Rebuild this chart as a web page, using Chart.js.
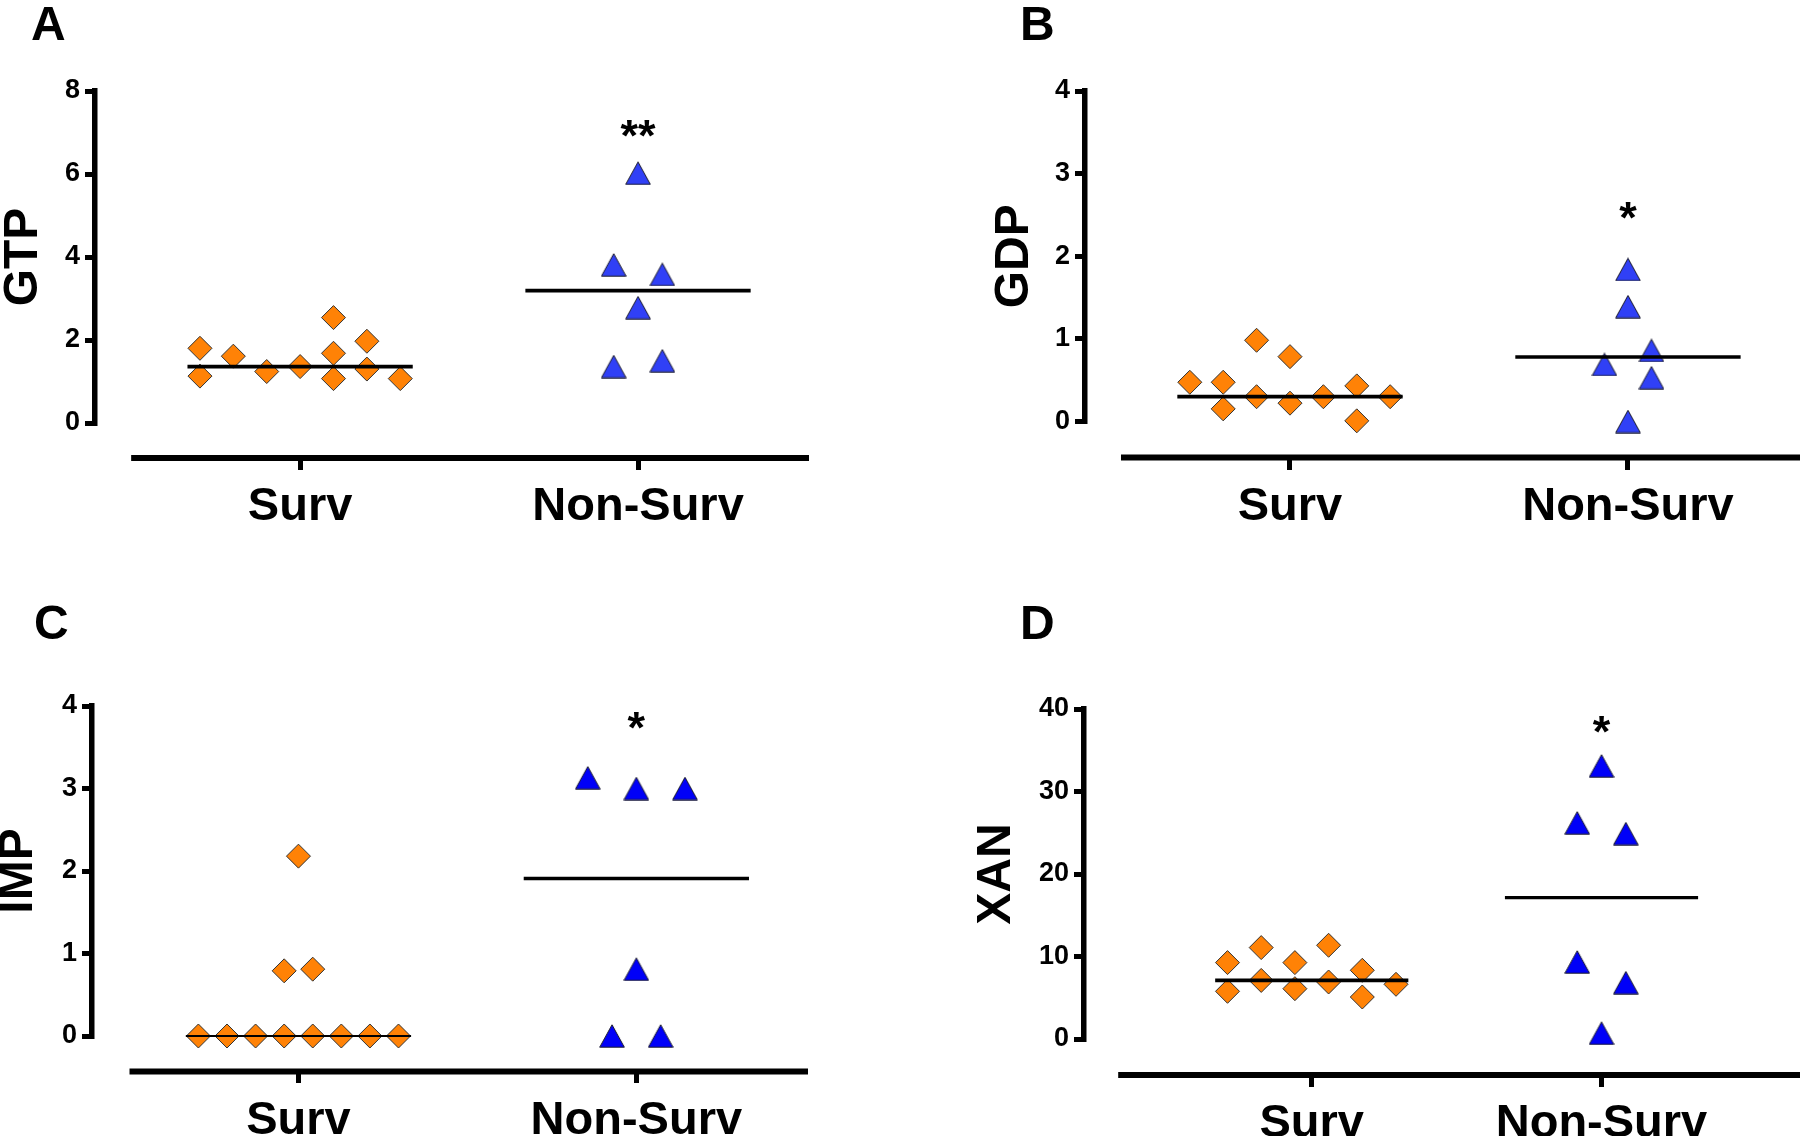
<!DOCTYPE html>
<html>
<head>
<meta charset="utf-8">
<script src="https://cdn.jsdelivr.net/npm/chart.js@4.4.1/dist/chart.umd.min.js"></script>
<style>
  html, body { margin: 0; padding: 0; background: #ffffff; }
  #wrap { position: relative; width: 1800px; height: 1136px; overflow: hidden; background: #ffffff; }
  #wrap canvas { position: absolute; }
  .letter { position: absolute; font: bold 48px 'Liberation Sans', Arial, sans-serif; line-height: 1; color: #000; }
</style>
</head>
<body>
<div id="wrap">
  <canvas id="cA" width="900" height="568" style="left:0px;top:0px"></canvas>
  <canvas id="cB" width="900" height="568" style="left:900px;top:0px"></canvas>
  <canvas id="cC" width="900" height="568" style="left:0px;top:568px"></canvas>
  <canvas id="cD" width="900" height="568" style="left:900px;top:568px"></canvas>
  <div class="letter" style="left:31px;top:0px">A</div>
  <div class="letter" style="left:1020px;top:0px">B</div>
  <div class="letter" style="left:34px;top:599px">C</div>
  <div class="letter" style="left:1020px;top:599px">D</div>
</div>
<script>
// ---------------- DATA ----------------
const categories = ['Surv', 'Non-Surv'];

// Panel A - GTP
const gtpSurv      = [1.80, 1.13, 1.61, 1.24, 1.36, 2.54, 1.68, 1.07, 1.97, 1.30, 1.07];
const gtpSurvSlot  = [-3, -3, -2, -1, 0, 1, 1, 1, 2, 2, 3];
const gtpNonSurv   = [6.02, 3.81, 3.58, 2.78, 1.36, 1.50];
const gtpNonSlot   = [0, -1, 1, 0, -1, 1];
const gtpMedian    = [1.36, 3.19];
const gtpTicks     = [0, 2, 4, 6, 8];
const gtpSig       = '**';
const gtpSigY      = 7.10;

// Panel B - GDP
const gdpSurv      = [0.475, 0.475, 0.153, 0.983, 0.30, 0.785, 0.222, 0.30, 0.431, 0.008, 0.30];
const gdpSurvSlot  = [-3, -2, -2, -1, -1, 0, 0, 1, 2, 2, 3];
const gdpNonSurv   = [1.84, 1.39, 0.86, 0.69, 0.53, 0.0];
const gdpNonSlot   = [0, 0, 1, -1, 1, 0];
const gdpMedian    = [0.30, 0.78];
const gdpTicks     = [0, 1, 2, 3, 4];
const gdpSig       = '*';
const gdpSigY      = 2.55;

// Panel C - IMP
const impSurv      = [0, 0, 0, 0, 0, 0, 0, 0, 0.79, 0.81, 2.18];
const impSurvSlot  = [-3.5, -2.5, -1.5, -0.5, 0.5, 1.5, 2.5, 3.5, -0.5, 0.5, 0];
const impNonSurv   = [3.13, 3.00, 3.00, 0.81, 0.0, 0.0];
const impNonSlot   = [-2, 0, 2, 0, -1, 1];
const impMedian    = [0.0, 1.91];
const impTicks     = [0, 1, 2, 3, 4];
const impSig       = '*';
const impSigY      = 3.82;

// Panel D - XAN
const xanSurv      = [9.26, 5.78, 11.08, 7.10, 9.26, 6.10, 11.36, 6.91, 8.33, 5.09, 6.63];
const xanSurvSlot  = [-2.5, -2.5, -1.5, -1.5, -0.5, -0.5, 0.5, 0.5, 1.5, 1.5, 2.5];
const xanNonSurv   = [33.1, 26.2, 24.9, 9.34, 6.83, 0.71];
const xanNonSlot   = [0, -1, 1, -1, 1, 0];
const xanMedian    = [7.10, 17.14];
const xanTicks     = [0, 10, 20, 30, 40];
const xanSig       = '*';
const xanSigY      = 38.1;

// ---------------- STYLE / LAYOUT ----------------
const FONT = "'Liberation Sans', Arial, Helvetica, sans-serif";
const ORANGE = '#FF8206';
const MEDIAN_HALF = 1 / 3;

function triangleImage(fill) {
  const c = document.createElement('canvas');
  c.width = 26; c.height = 24;
  const g = c.getContext('2d');
  g.beginPath();
  g.moveTo(13, 0.8);
  g.lineTo(25.3, 23.2);
  g.lineTo(0.7, 23.2);
  g.closePath();
  g.fillStyle = fill;
  g.fill();
  g.lineWidth = 1;
  g.strokeStyle = '#1c1c2a';
  g.stroke();
  return c;
}

const prismExtras = {
  id: 'prismExtras',
  afterDraw(chart, args, o) {
    const { ctx } = chart;
    const x = chart.scales.x, y = chart.scales.y;
    const yy = y.getPixelForValue(o.axisLevel);
    ctx.save();
    ctx.strokeStyle = '#000';
    ctx.lineWidth = o.axisWidth;
    ctx.lineCap = 'butt';
    ctx.beginPath();
    ctx.moveTo(x.getPixelForValue(o.axisStart), yy);
    ctx.lineTo(x.getPixelForValue(o.axisEnd), yy);
    ctx.stroke();
    ctx.fillStyle = '#000';
    ctx.font = 'bold ' + o.sigSize + 'px ' + FONT;
    ctx.textAlign = 'center';
    ctx.textBaseline = 'middle';
    ctx.fillText(o.sigText, x.getPixelForValue(2), y.getPixelForValue(o.sigY) + 0.22 * o.sigSize);
    ctx.restore();
  }
};

function makePanel(id, d, L) {
  const survPts = d.surv.map((v, i) => ({ x: 1 + d.survSlot[i] * L.survStep, y: v }));
  const nonPts = d.non.map((v, i) => ({ x: 2 + d.nonSlot[i] * L.nonStep, y: v }));
  const medianSets = d.median.map((m, i) => ({
    data: [{ x: i + 1 - MEDIAN_HALF, y: m }, { x: i + 1 + MEDIAN_HALF, y: m }],
    showLine: true, borderColor: '#000', borderWidth: L.medWidth[i],
    pointRadius: 0, clip: false, order: -1
  }));
  new Chart(document.getElementById(id), {
    type: 'scatter',
    data: {
      datasets: [
        ...medianSets,
        { data: survPts, pointStyle: 'rectRot', pointRadius: 12, pointHoverRadius: 12,
          backgroundColor: ORANGE, borderColor: '#333', borderWidth: 1, clip: false, order: 1 },
        { data: nonPts, pointStyle: triangleImage(L.triColor), pointRadius: 12, pointHoverRadius: 12,
          backgroundColor: L.triColor, borderColor: '#111', borderWidth: 1, clip: false, order: 1 }
      ]
    },
    options: {
      responsive: false, animation: false, devicePixelRatio: 1,
      events: [],
      layout: { autoPadding: false, padding: { top: L.padTop, bottom: L.padBottom, left: 0, right: L.padRight } },
      plugins: {
        legend: { display: false }, tooltip: { enabled: false },
        prismExtras: { axisLevel: L.axisLevel, axisStart: L.axisStart, axisEnd: L.xMax, axisWidth: 6,
                       sigText: d.sig, sigY: d.sigY, sigSize: 45 }
      },
      scales: {
        x: {
          type: 'linear', min: L.xMin, max: L.xMax,
          position: { y: L.axisLevel },
          border: { display: false },
          grid: { display: true, drawOnChartArea: false, drawTicks: true, tickLength: 12, lineWidth: 5, color: '#000' },
          afterBuildTicks: s => { s.ticks = categories.map((c, i) => ({ value: i + 1 })); },
          ticks: { callback: v => categories[Math.round(v) - 1], autoSkip: false, maxRotation: 0,
                   color: '#000', padding: 9, font: { family: FONT, size: 47, weight: 'bold' } }
        },
        y: {
          type: 'linear', min: d.ticks[0], max: d.ticks[d.ticks.length - 1], position: 'left',
          afterFit: s => { s.width = L.yWidth; },
          afterBuildTicks: s => { s.ticks = d.ticks.map(v => ({ value: v })); },
          border: { display: true, width: 5.5, color: '#000' },
          grid: { display: true, drawOnChartArea: false, drawTicks: true, tickLength: 10, lineWidth: 5, color: '#000' },
          ticks: { color: '#000', padding: 5, font: { family: FONT, size: 27, weight: 'bold' } },
          title: { display: true, text: d.title, color: '#000',
                   font: { family: FONT, size: 48, weight: 'bold', lineHeight: 1 },
                   padding: { top: L.titlePad, bottom: 0 } }
        }
      }
    },
    plugins: [prismExtras]
  });
}

makePanel('cA',
  { title: 'GTP', surv: gtpSurv, survSlot: gtpSurvSlot, non: gtpNonSurv, nonSlot: gtpNonSlot,
    median: gtpMedian, ticks: gtpTicks, sig: gtpSig, sigY: gtpSigY },
  { padTop: 91, padBottom: 145, padRight: 91, yWidth: 95, titlePad: 0,
    xMin: 0.393, xMax: 2.506, axisStart: 0.5, axisLevel: -0.843,
    survStep: 0.0988, nonStep: 0.0719, medWidth: [3.8, 3.6], triColor: '#3040F6' });

makePanel('cB',
  { title: 'GDP', surv: gdpSurv, survSlot: gdpSurvSlot, non: gdpNonSurv, nonSlot: gdpNonSlot,
    median: gdpMedian, ticks: gdpTicks, sig: gdpSig, sigY: gdpSigY },
  { padTop: 91, padBottom: 146.5, padRight: 0, yWidth: 185, titlePad: 91,
    xMin: 0.3935, xMax: 2.509, axisStart: 0.5, axisLevel: -0.436,
    survStep: 0.0988, nonStep: 0.0695, medWidth: [3.8, 3.6], triColor: '#3040F6' });

makePanel('cC',
  { title: 'IMP', surv: impSurv, survSlot: impSurvSlot, non: impNonSurv, nonSlot: impNonSlot,
    median: impMedian, ticks: impTicks, sig: impSig, sigY: impSigY },
  { padTop: 138, padBottom: 100, padRight: 92, yWidth: 92, titlePad: -5,
    xMin: 0.389, xMax: 2.508, axisStart: 0.5, axisLevel: -0.430,
    survStep: 0.0846, nonStep: 0.0719, medWidth: [2, 3.4], triColor: '#0000F8' });

makePanel('cD',
  { title: 'XAN', surv: xanSurv, survSlot: xanSurvSlot, non: xanNonSurv, nonSlot: xanNonSlot,
    median: xanMedian, ticks: xanTicks, sig: xanSig, sigY: xanSigY },
  { padTop: 141, padBottom: 97, padRight: 0, yWidth: 184, titlePad: 73,
    xMin: 0.214, xMax: 2.685, axisStart: 0.332, axisLevel: -4.36,
    survStep: 0.1163, nonStep: 0.0839, medWidth: [3.8, 3.4], triColor: '#0000F8' });
</script>
</body>
</html>
